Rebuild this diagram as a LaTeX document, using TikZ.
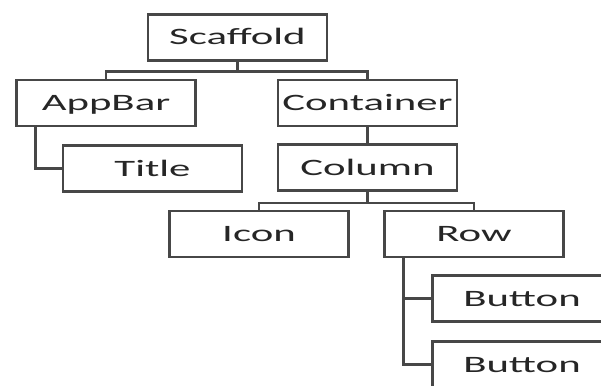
\documentclass[tikz,border=0pt]{standalone}
\usepackage{fontspec}
\setmainfont{Carlito}
\usetikzlibrary{calc}
\tikzset{
  tbox/.style={draw=black!72, fill=white, line width=2.2pt,
    minimum width=179pt, minimum height=46pt, inner sep=0pt,
    text height=15pt, text depth=0pt, text=black!85,
    font=\fontsize{23.5}{27}\selectfont},
  link/.style={draw=black!72, line width=2.2pt}
}
\newcommand{\wide}[1]{\scalebox{1.82}[1]{#1}}
\begin{document}
\begin{tikzpicture}[x=1pt, y=-1pt]
  \clip (0,0) rectangle (601,385);
  \fill[white] (0,0) rectangle (601,385);
  % the tree's boxes
  \node[tbox] (scaf) at (237.5,37.5) {\wide{Scaffold}};
  \node[tbox] (appbar) at (106,103) {\wide{AppBar}};
  \node[tbox] (cont) at (367.5,103) {\wide{Container}};
  \node[tbox] (title) at (152.5,168.5) {\wide{Title}};
  \node[tbox] (col) at (367.5,167.5) {\wide{Column}};
  \node[tbox] (icon) at (259,234) {\wide{Icon}};
  \node[tbox] (row) at (474,234) {\wide{Row}};
  \node[tbox] (btna) at (522,298.5) {\wide{Button}};
  \node[tbox] (btnb) at (522,364.5) {\wide{Button}};
  % connectors
  \coordinate (sj) at ($(scaf.south)+(0,10)$);
  \draw[link] (scaf.south) -- (sj) -| (appbar.north);
  \draw[link] (sj) -| (cont.north);
  \draw[link] ($(appbar.south west)+(20,0)$) |- (title.west);
  \draw[link] (cont.south) -- (col.north);
  \coordinate (cj) at ($(col.south)+(0,11)$);
  \draw[link] (col.south) -- (cj) -| (icon.north);
  \draw[link] (cj) -| (row.north);
  \draw[link] ($(row.south west)+(20,0)$) |- (btna.west);
  \draw[link] ($(row.south west)+(20,0)$) |- (btnb.west);
\end{tikzpicture}
\end{document}
